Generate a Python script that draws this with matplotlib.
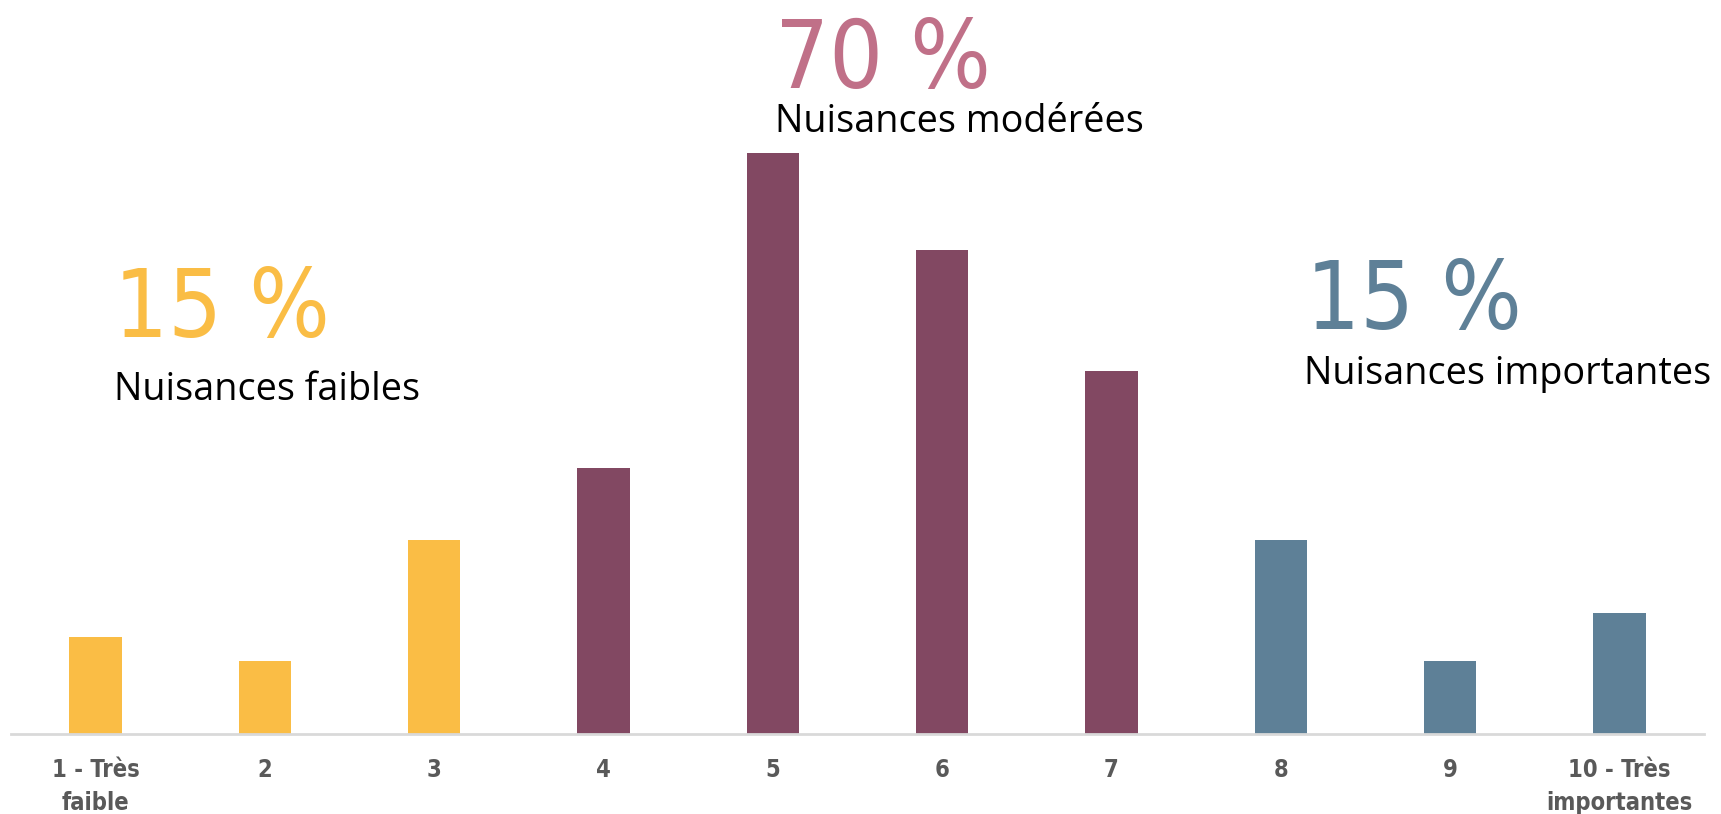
import numpy as np
import matplotlib.pyplot as plt

# notes 1..10 and share of answers per note
labels = ["1 - Très\nfaible", "2", "3", "4", "5", "6", "7", "8", "9",
          "10 - Très\nimportantes"]
values = [4, 3, 8, 11, 24, 20, 15, 8, 3, 5]
groups = ["faible"] * 3 + ["moderee"] * 4 + ["importante"] * 3

colors = {"faible": "#FABD45", "moderee": "#824862", "importante": "#5E8097"}
pct_colors = {"faible": "#FABD45", "moderee": "#C07088", "importante": "#5E8097"}

group_pct = ["15 %", "70 %", "15 %"]
group_names = ["Nuisances faibles", "Nuisances modérées", "Nuisances importantes"]
group_keys = ["faible", "moderee", "importante"]

W, H = 1721, 814
fig = plt.figure(figsize=(W / 100, H / 100), dpi=100)
ax = fig.add_axes([11 / W, 1 - 734 / H, (1704 - 11) / W, (734 - 105) / H])

x = np.arange(len(labels))
ax.bar(x, values, width=0.31, color=[colors[g] for g in groups], zorder=2)
ax.set_xlim(-0.5, 9.5)
ax.set_ylim(0, 26)

ax.set_xticks(x)
ax.set_xticklabels(labels, fontsize=17, fontweight="bold", color="#595959",
                   family="DejaVu Sans", fontstretch="condensed",
                   linespacing=1.5)
ax.tick_params(axis="x", length=0, pad=17)
ax.set_yticks([])
for s in ["top", "left", "right"]:
    ax.spines[s].set_visible(False)
ax.spines["bottom"].set_color("#D9D9D9")
ax.spines["bottom"].set_linewidth(2)

# group captions, pixel positions from the top-left
pct_pos = [(114, 337), (775, 88), (1306, 329)]
name_pos = [(114, 400), (775, 132), (1304, 384)]
for key, pct, name, (px, py), (nx, ny) in zip(group_keys, group_pct, group_names,
                                                pct_pos, name_pos):
    fig.text(px / W, 1 - py / H, pct, fontsize=68, color=pct_colors[key],
             family="DejaVu Sans", fontstretch="condensed",
             va="baseline", ha="left")
    fig.text(nx / W, 1 - ny / H, name, fontsize=27.2, color="black",
             family=["Open Sans", "DejaVu Sans"], va="baseline", ha="left")

fig.savefig("out.png", dpi=100, facecolor="white")
